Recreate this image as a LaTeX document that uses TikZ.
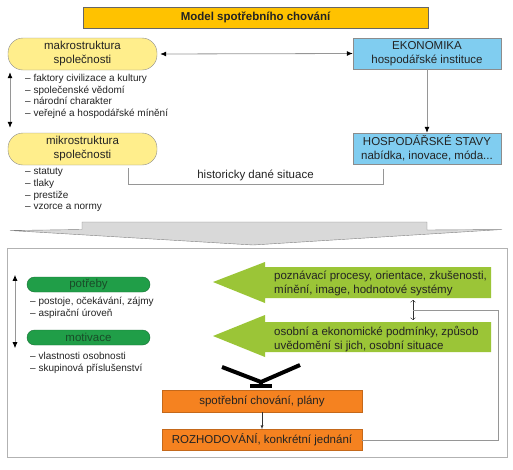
\documentclass[tikz,border=0pt]{standalone}
\usepackage{fontspec}
\setmainfont{Liberation Sans}
\usepackage{tikz}
\usetikzlibrary{arrows.meta}
\definecolor{titlegold}{RGB}{255,194,0}
\definecolor{pillyellow}{RGB}{255,238,140}
\definecolor{ecoblue}{RGB}{128,205,240}
\definecolor{pillgreen}{RGB}{32,158,72}
\definecolor{pilltext}{RGB}{25,75,40}
\definecolor{lime}{RGB}{155,197,55}
\definecolor{planorange}{RGB}{245,130,32}
\definecolor{funnelgrey}{RGB}{217,217,217}
\definecolor{linegrey}{RGB}{150,150,150}
\definecolor{textgrey}{RGB}{35,35,35}

\begin{document}
\begin{tikzpicture}[x=1pt,y=-1pt,
  titlebox/.style={draw=black!60,fill=titlegold,minimum width=345pt,minimum height=21pt},
  pill/.style={draw=black!45,fill=pillyellow,rounded corners=15pt,minimum width=149pt,minimum height=32pt,align=center},
  ecobox/.style={draw=black!45,fill=ecoblue,minimum width=148pt,minimum height=31pt,align=center},
  greenpill/.style={draw=pillgreen!70!black,fill=pillgreen,text=pilltext,rounded corners=7.5pt,minimum width=123pt,minimum height=15pt},
  planbox/.style={draw=planorange!80!black,fill=planorange,minimum width=200pt,minimum height=22pt},
  listtext/.style={anchor=north west,align=left,font=\fontsize{10}{11.7}\selectfont},
  arrowtext/.style={anchor=west,align=left},
  greyline/.style={draw=linegrey,line width=0.8pt},
  greyarrow/.style={greyline,{Latex[color=black,length=6pt,width=5pt]}-{Latex[color=black,length=6pt,width=5pt]}}]
\tikzstyle{every node}+=[inner sep=0pt,text=textgrey,font=\fontsize{11.5}{14}\selectfont]
\useasboundingbox (0,0) rectangle (513,469);
% upper part
\node[titlebox] (title) at (255.5,17.5) {\bfseries Model spotřebního chování};
\node[pill] (makro) at (82.5,54) {makrostruktura\\společnosti};
\node[pill] (mikro) at (82.5,149) {mikrostruktura\\společnosti};
\node[ecobox] (ekon) at (427,53.5) {EKONOMIKA\\hospodářské instituce};
\node[ecobox] (hosp) at (427,148.5) {HOSPODÁŘSKÉ STAVY\\nabídka, inovace, móda...};
\draw[greyarrow,shorten <=3pt] (makro.east) -- (ekon.west);
\draw[greyline,-{Latex[color=black,length=6pt,width=5pt]}] (ekon.south) -- (hosp.north);
\draw[greyarrow,shorten <=2pt,shorten >=5pt] ([xshift=-72.5pt]makro.south) -- ([xshift=-72.5pt]mikro.north);
\node[listtext] (makrolist) at (25,74) {– faktory civilizace a kultury\\– společenské vědomí\\– národní charakter\\– veřejné a hospodářské mínění};
\node[listtext] (mikrolist) at (25,168) {– statuty\\– tlaky\\– prestiže\\– vzorce a normy};
\node (hist) at (255.5,175.5) {historicky dané situace};
\draw[greyline] (128,168) -- (128,184) -- (383,184) -- (383,169);
% funnel
\draw[draw=black!50,fill=funnelgrey] (82,222) -- (427,222) -- (427,230) -- (502,229.5) -- (253,245) -- (10,230.5) -- (82,229.5) -- cycle;
% lower part
\draw[draw=black!30,line width=0.8pt,fill=white] (7,248) rectangle (507,457);
\node[greenpill] (potr) at (88.5,284.5) {potřeby};
\node[greenpill] (moti) at (88.5,337.5) {motivace};
\draw[greyarrow,shorten <=-2pt,shorten >=-3pt] ([xshift=-73.5pt]potr.north) -- ([xshift=-73.5pt]moti.south);
\node[listtext] (potrlist) at (30,297) {– postoje, očekávání, zájmy\\– aspirační úroveň};
\node[listtext] (motilist) at (30,352) {– vlastnosti osobnosti\\– skupinová příslušenství};
\fill[lime] (213,282) -- (265,262) -- (265,267) -- (491,267) -- (491,298) -- (265,298) -- (265,303) -- cycle;
\node[arrowtext] (cogn) at (274,283.5) {poznávací procesy, orientace, zkušenosti,\\mínění, image, hodnotové systémy};
\fill[lime] (213,336) -- (265,315) -- (265,322) -- (491,322) -- (491,352) -- (265,352) -- (265,357) -- cycle;
\node[arrowtext] (pers) at (274,339) {osobní a ekonomické podmínky, způsob\\uvědomění si jich, osobní situace};
\coordinate (cb) at (413,300);
\coordinate (pt) at (413,320);
\coordinate (fb) at (413,310);
\draw[<->,black!80] (cb) -- (pt);
\coordinate (yl) at (222,367);
\coordinate (yr) at (300,365);
\coordinate (yj) at (261,382);
\draw[line width=4pt] (yl) -- (yj) -- (yr);
\draw[line width=4pt] (yj) -- (261,387);
\draw[line width=4pt] (250,386) -- (272,386);
\node[planbox] (plan) at (262,401) {spotřební chování, plány};
\node[planbox,minimum height=21pt] (rozh) at (262,440) {ROZHODOVÁNÍ, konkrétní jednání};
\draw[black!80,-latex] (plan.south) -- (rozh.north);
\draw[greyline] (rozh.east) -- (498,440) -- (498,310) -- (fb);
\end{tikzpicture}
\end{document}
